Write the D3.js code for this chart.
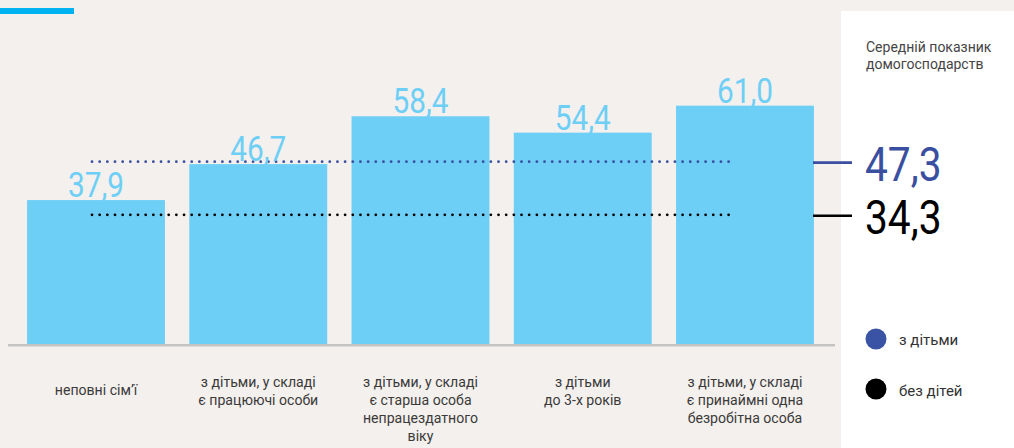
<!DOCTYPE html>
<html>
<head>
<meta charset="utf-8">
<script src="https://cdn.jsdelivr.net/npm/d3@7"></script>
<style>
  html, body { margin: 0; padding: 0; background: #f4f0ed; }
  svg { display: block; font-family: Roboto, "Noto Sans", sans-serif; }
</style>
</head>
<body>
<div id="chart"></div>
<script>
// categories (label lines) and values
var categories = [
    ["неповні сім’ї"],
    ["з дітьми, у складі", "є працюючі особи"],
    ["з дітьми, у складі", "є старша особа", "непрацездатного", "віку"],
    ["з дітьми", "до 3-х років"],
    ["з дітьми, у складі", "є принаймні одна", "безробітна особа"]
];
var values = [37.9, 46.7, 58.4, 54.4, 61.0];

// averages
var avgNames = ["з дітьми", "без дітей"];
var avgValues = [47.3, 34.3];
var avgColors = ["#3a4fa0", "#000000"];

var panelTitle = ["Середній показник", "домогосподарств"];

var areaWidth = 1014, areaHeight = 448;
var baseY = 344;

function fmt(v) {
    return v.toFixed(1).replace(".", ",");
}

var svg = d3.select("#chart").append("svg")
    .attr("width", areaWidth).attr("height", areaHeight);

svg.append("rect").attr("width", areaWidth).attr("height", areaHeight).style("fill", "#f4f0ed");

// top stripe
svg.append("rect").attr("x", 0).attr("y", 8).attr("width", 74).attr("height", 6).style("fill", "#00b2ef");

// right white panel
svg.append("rect").attr("x", 841).attr("y", 11).attr("width", areaWidth - 841).attr("height", areaHeight - 11)
    .style("fill", "#ffffff");

var idx = d3.range(values.length);
var bandScale = d3.scaleBand().domain(idx).range([14.9, 826.1]).paddingInner(0.15).paddingOuter(0.075);
var heightScale = d3.scaleLinear().domain([0, 80]).range([355, 28]);

svg.selectAll("rect.bar")
    .data(idx)
    .enter()
    .append("rect")
    .attr("class", "bar")
    .attr("x", function(i) { return bandScale(i); })
    .attr("y", function(i) { return heightScale(values[i]); })
    .attr("width", bandScale.bandwidth())
    .attr("height", function(i) { return baseY - heightScale(values[i]); })
    .style("fill", "#6dcff6");

// baseline
svg.append("line").attr("x1", 8).attr("x2", 835).attr("y1", baseY + 1.3).attr("y2", baseY + 1.3)
    .style("stroke", "#c3c3c3").style("stroke-width", 2.6);

// average dotted lines
svg.selectAll("line.avg")
    .data(avgValues)
    .enter()
    .append("line")
    .attr("class", "avg")
    .attr("x1", 92).attr("x2", 734)
    .attr("y1", function(d) { return heightScale(d); })
    .attr("y2", function(d) { return heightScale(d); })
    .style("stroke", function(d, i) { return avgColors[i]; })
    .style("stroke-width", 2.8)
    .style("stroke-linecap", "round")
    .style("stroke-dasharray", "0 7.67");

// bar value labels
svg.selectAll("text.val")
    .data(idx)
    .enter()
    .append("text")
    .attr("class", "val")
    .attr("transform", function(i) {
        return "translate(" + (bandScale(i) + bandScale.bandwidth() / 2) + "," + (heightScale(values[i]) - 3) + ") scale(0.85,1)";
    })
    .attr("text-anchor", "middle")
    .style("font-size", "35px")
    .style("fill", "#6dcff6")
    .text(function(i) { return fmt(values[i]); });

// category labels
var catText = svg.selectAll("text.cat")
    .data(idx)
    .enter()
    .append("text")
    .attr("class", "cat")
    .attr("text-anchor", "middle")
    .style("font-size", "15px")
    .style("fill", "#3a3a3a")
    .attr("transform", "scale(0.94,1)");

catText.each(function(i) {
    var cx = (bandScale(i) + bandScale.bandwidth() / 2) / 0.94;
    var y0 = categories[i].length == 1 ? 395 : 387;
    d3.select(this).selectAll("tspan")
        .data(categories[i])
        .enter()
        .append("tspan")
        .attr("x", cx)
        .attr("y", function(d, j) { return y0 + j * 18; })
        .text(function(d) { return d; });
});

// panel title
svg.append("text")
    .style("font-size", "14px")
    .style("fill", "#444444")
    .selectAll("tspan")
    .data(panelTitle)
    .enter()
    .append("tspan")
    .attr("x", 866)
    .attr("y", function(d, j) { return 52 + j * 17; })
    .text(function(d) { return d; });

// average markers and numbers
svg.selectAll("line.tick")
    .data(avgValues)
    .enter()
    .append("line")
    .attr("class", "tick")
    .attr("x1", 813).attr("x2", 852)
    .attr("y1", function(d) { return heightScale(d) + 1; })
    .attr("y2", function(d) { return heightScale(d) + 1; })
    .style("stroke", function(d, i) { return avgColors[i]; })
    .style("stroke-width", 2.6);

svg.selectAll("text.avgnum")
    .data(avgValues)
    .enter()
    .append("text")
    .attr("class", "avgnum")
    .attr("transform", function(d) {
        return "translate(865," + (heightScale(d) + 19.5) + ") scale(0.83,1)";
    })
    .style("font-size", "49px")
    .style("fill", function(d, i) { return avgColors[i]; })
    .text(function(d) { return fmt(d); });

// legend
svg.selectAll("circle.leg")
    .data(avgNames)
    .enter()
    .append("circle")
    .attr("class", "leg")
    .attr("cx", 876)
    .attr("cy", function(d, i) { return 339 + i * 50; })
    .attr("r", 10.5)
    .style("fill", function(d, i) { return avgColors[i] == "#3a4fa0" ? "#3a53a4" : avgColors[i]; });

svg.selectAll("text.leg")
    .data(avgNames)
    .enter()
    .append("text")
    .attr("class", "leg")
    .attr("x", 899)
    .attr("y", function(d, i) { return 345 + i * 51; })
    .style("font-size", "15px")
    .style("fill", "#333333")
    .text(function(d) { return d; });
</script>
</body>
</html>
